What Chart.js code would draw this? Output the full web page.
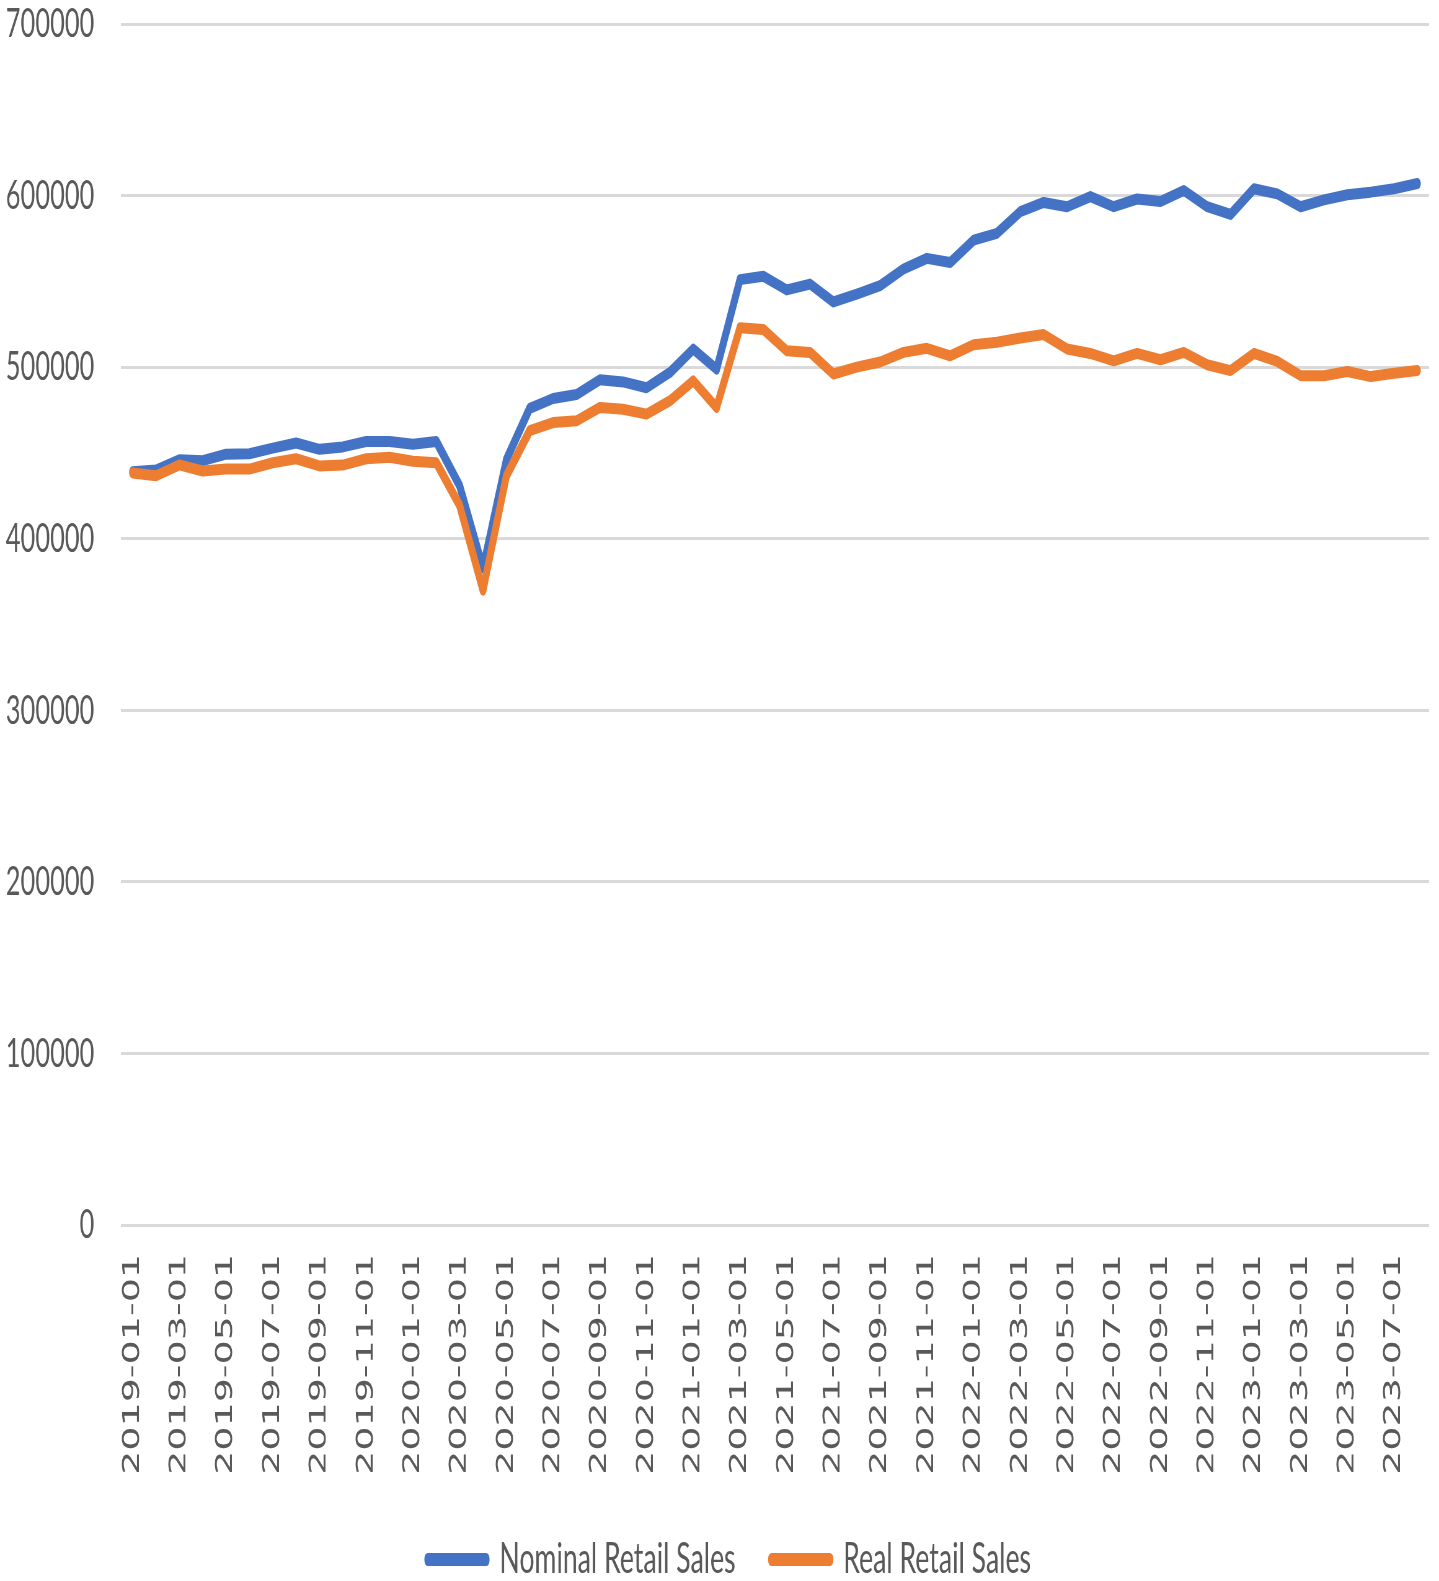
<!DOCTYPE html>
<html>
<head>
<meta charset="utf-8">
<script src="https://cdn.jsdelivr.net/npm/chart.js@4.4.0/dist/chart.umd.min.js"></script>
<style>
  body { margin: 0; background: #fff; overflow: hidden; }
  #wrap { transform: scaleX(0.62); transform-origin: 0 0; width: 2321px; }
</style>
</head>
<body>
<div id="wrap"><canvas id="grafica" width="2321" height="1581"></canvas></div>
<script>
// meses (serie mensual)
const meses = [
  '2019-01-01','2019-02-01','2019-03-01','2019-04-01','2019-05-01','2019-06-01',
  '2019-07-01','2019-08-01','2019-09-01','2019-10-01','2019-11-01','2019-12-01',
  '2020-01-01','2020-02-01','2020-03-01','2020-04-01','2020-05-01','2020-06-01',
  '2020-07-01','2020-08-01','2020-09-01','2020-10-01','2020-11-01','2020-12-01',
  '2021-01-01','2021-02-01','2021-03-01','2021-04-01','2021-05-01','2021-06-01',
  '2021-07-01','2021-08-01','2021-09-01','2021-10-01','2021-11-01','2021-12-01',
  '2022-01-01','2022-02-01','2022-03-01','2022-04-01','2022-05-01','2022-06-01',
  '2022-07-01','2022-08-01','2022-09-01','2022-10-01','2022-11-01','2022-12-01',
  '2023-01-01','2023-02-01','2023-03-01','2023-04-01','2023-05-01','2023-06-01',
  '2023-07-01','2023-08-01'
];

const nominal = [
  439000, 440000, 446000, 445500, 449300, 449500, 452800, 455800, 452100, 453500, 456700, 456700,
  455100, 456700, 430900, 383000, 446000, 476000, 481700, 484000, 492600, 491400, 488000, 496900,
  510500, 498800, 551000, 553000, 545000, 548400, 538000, 542600, 547500, 557200, 563400, 561000,
  574000, 578000, 590600, 596000, 593500, 599400, 593500, 598000, 596500, 603000, 593500, 589000,
  604000, 601000, 593500, 597500, 600500, 602000, 604000, 607000
];

const real = [
  438300, 436700, 443000, 439500, 440600, 440600, 444300, 446600, 442400, 442900, 446600, 447500,
  445200, 444300, 419400, 370000, 436600, 463000, 467700, 468700, 476500, 475500, 472600, 480400,
  492000, 476500, 523000, 522000, 509500, 508600, 496000, 500000, 503000, 508600, 511000, 506600,
  513000, 514500, 517000, 519000, 510600, 508000, 503700, 508000, 504300, 508600, 501400, 498000,
  508000, 503300, 495000, 495000, 497500, 494500, 496500, 498000
];

const yTicks = [0, 100000, 200000, 300000, 400000, 500000, 600000, 700000];

const gris = '#595959';

function serie(label, data, color, order) {
  return {
    label: label,
    data: data,
    borderColor: color,
    backgroundColor: color,
    borderWidth: 11,
    pointRadius: 0,
    tension: 0,
    borderJoinStyle: 'round',
    borderCapStyle: 'round',
    order: order
  };
}

// mueve un poco la leyenda a la derecha
const moverLeyenda = {
  id: 'moverLeyenda',
  afterLayout: chart => {
    chart.legend.left += 24;
    chart.legend.right += 24;
  }
};

const ctx = document.getElementById('grafica');
new Chart(ctx, {
  type: 'line',
  data: {
    labels: meses,
    datasets: [
      serie('Nominal Retail Sales', nominal, '#4472C4', 1),
      serie('Real Retail Sales', real, '#ED7D31', 0)
    ]
  },
  plugins: [moverLeyenda],
  options: {
    responsive: false,
    devicePixelRatio: 1,
    animation: false,
    layout: { padding: { top: 24, right: 16, bottom: -10, left: 0 } },
    plugins: {
      tooltip: { enabled: false },
      legend: {
        position: 'bottom',
        labels: {
          sort: (a, b) => a.datasetIndex - b.datasetIndex,
          boxWidth: 94,
          boxHeight: 2,
          padding: 58,
          color: gris,
          font: { family: 'Lato', size: 43 }
        }
      }
    },
    scales: {
      x: {
        offset: true,
        grid: { display: false, drawTicks: false },
        border: { display: false },
        afterFit: s => { s.height = 255; s.paddingLeft = 0; s.paddingRight = 0; },
        ticks: {
          autoSkip: false,
          maxRotation: 90,
          minRotation: 90,
          padding: 29,
          color: gris,
          font: { family: 'DejaVu Sans', size: 38 },
          callback: (v, i) => (i % 2 === 0 ? meses[i] : '')
        }
      },
      y: {
        min: yTicks[0],
        max: yTicks[yTicks.length - 1],
        afterBuildTicks: s => { s.ticks = yTicks.map(v => ({ value: v })); },
        afterFit: s => { s.width = 195; s.paddingTop = 0; s.paddingBottom = 0; },
        grid: { color: '#d9d9d9', lineWidth: 3, drawTicks: false },
        border: { display: false },
        ticks: {
          padding: 43,
          color: gris,
          font: { family: 'Lato', size: 41 },
          callback: v => String(v)
        }
      }
    }
  }
});
</script>
</body>
</html>
